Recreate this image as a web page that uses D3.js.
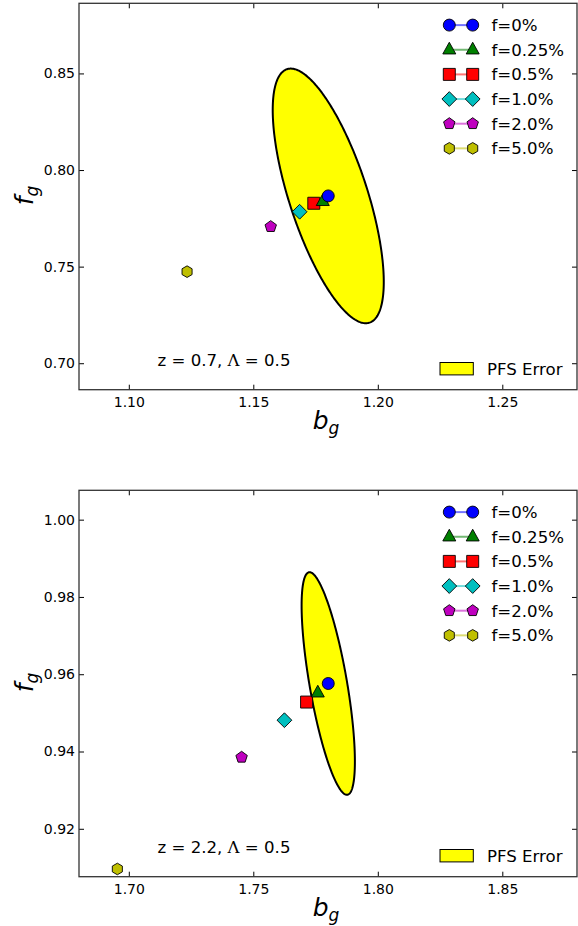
<!DOCTYPE html>
<html>
<head>
<meta charset="utf-8">
<script src="https://cdn.jsdelivr.net/npm/d3@7"></script>
<style>
  html, body { margin: 0; padding: 0; background: #fff; }
  svg { display: block; }
  text { font-family: "DejaVu Sans", sans-serif; }
</style>
</head>
<body>
<svg id="chart" width="578" height="926"></svg>
<script>
// ---------------- data ----------------
const seriesLabels = ["f=0%", "f=0.25%", "f=0.5%", "f=1.0%", "f=2.0%", "f=5.0%"];

// Panel 1: z = 0.7
const bgLow = [1.1801, 1.1779, 1.1743, 1.1686, 1.1570, 1.1234];
const fgLow = [0.7866, 0.7838, 0.7828, 0.7784, 0.7707, 0.7474];
// Panel 2: z = 2.2
const bgHigh = [1.7801, 1.7759, 1.7714, 1.7625, 1.7453, 1.6954];
const fgHigh = [0.9576, 0.9552, 0.9528, 0.9481, 0.9385, 0.9096];

// PFS error ellipses (half-extents in b_g and f_g, correlation)
const ellipseSigmaB = [0.0223, 0.0107];
const ellipseSigmaF = [0.0659, 0.0288];
const ellipseRho = [-0.675, -0.70];

const panelTitles = ["z = 0.7, ", "z = 2.2, "];
const panelLambda = ["Λ = 0.5", "Λ = 0.5"];
const errorLabel = "PFS Error";

const xDomains = [[1.08, 1.28], [1.68, 1.88]];
const yDomains = [[0.6863, 0.8863], [0.9076, 1.0076]];
const xTicks = [[1.10, 1.15, 1.20, 1.25], [1.70, 1.75, 1.80, 1.85]];
const yTicks = [[0.70, 0.75, 0.80, 0.85], [0.92, 0.94, 0.96, 0.98, 1.00]];

// ---------------- styles ----------------
const markerColors = ["#0000ff", "#008000", "#ff0000", "#00bfbf", "#bf00bf", "#bfbf00"];
const markerShapes = ["circle", "triangle", "square", "diamond", "pentagon", "hexagon"];

function polygonPath(n, r, rot) {
  const pts = d3.range(n).map(i => {
    const a = rot + i * 2 * Math.PI / n;
    return [r * Math.sin(a), -r * Math.cos(a)];
  });
  return "M" + pts.map(p => p[0].toFixed(2) + "," + p[1].toFixed(2)).join("L") + "Z";
}
function markerPath(shape) {
  switch (shape) {
    case "circle": return d3.symbol(d3.symbolCircle, Math.PI * 6 * 6)();
    case "triangle": return "M0,-7.5L6.5,4.2L-6.5,4.2Z";
    case "square": return "M-6,-6L6,-6L6,6L-6,6Z";
    case "diamond": return polygonPath(4, 7.4, 0);
    case "pentagon": return polygonPath(5, 6, 0);
    case "hexagon": return polygonPath(6, 5.8, 0);
  }
}

const left = 79, right = 577;
const panelTops = [3.3, 490.3];
const panelH = 386.4;

const svg = d3.select("#chart");

for (let p = 0; p < 2; p++) {
  const top = panelTops[p], bottom = top + panelH;
  const x = d3.scaleLinear().domain(xDomains[p]).range([left, right]);
  const y = d3.scaleLinear().domain(yDomains[p]).range([bottom, top]);
  const bg = p === 0 ? bgLow : bgHigh;
  const fg = p === 0 ? fgLow : fgHigh;
  const g = svg.append("g");

  const clipId = "clip" + p;
  svg.append("clipPath").attr("id", clipId)
    .append("rect").attr("x", left).attr("y", top).attr("width", right - left).attr("height", panelH);

  const plot = g.append("g").attr("clip-path", `url(#${clipId})`);

  // ellipse
  const b0 = bg[0], f0 = fg[0];
  const sb = ellipseSigmaB[p], sf = ellipseSigmaF[p], rho = ellipseRho[p];
  const ts = d3.range(0, 2 * Math.PI + 0.001, Math.PI / 180);
  const ellPts = ts.map(t => [
    b0 + sb * Math.cos(t),
    f0 + sf * (rho * Math.cos(t) + Math.sqrt(1 - rho * rho) * Math.sin(t))
  ]);
  plot.append("path")
    .datum(ellPts)
    .attr("d", d3.line().x(d => x(d[0])).y(d => y(d[1])).curve(d3.curveLinearClosed))
    .attr("fill", "#ffff00")
    .attr("stroke", "#000")
    .attr("stroke-width", 2);

  // markers (draw from last to first so f=0% on top)
  const idx = d3.range(seriesLabels.length).reverse();
  plot.selectAll("path.mk").data(idx).enter().append("path")
    .attr("class", "mk")
    .attr("d", i => markerPath(markerShapes[i]))
    .attr("transform", i => `translate(${x(bg[i])},${y(fg[i])})`)
    .attr("fill", i => markerColors[i])
    .attr("stroke", "#000")
    .attr("stroke-width", 0.9);

  // axes
  const fmt = d3.format(".2f");
  const axB = g.append("g").attr("transform", `translate(0,${bottom})`)
    .call(d3.axisBottom(x).tickValues(xTicks[p]).tickFormat(fmt).tickSize(-5).tickPadding(5));
  const axL = g.append("g").attr("transform", `translate(${left},0)`)
    .call(d3.axisLeft(y).tickValues(yTicks[p]).tickFormat(fmt).tickSize(-5).tickPadding(4));
  const axT = g.append("g").attr("transform", `translate(0,${top})`)
    .call(d3.axisTop(x).tickValues(xTicks[p]).tickFormat("").tickSize(-5));
  const axR = g.append("g").attr("transform", `translate(${right},0)`)
    .call(d3.axisRight(y).tickValues(yTicks[p]).tickFormat("").tickSize(-5));
  [axB, axL, axT, axR].forEach(a => {
    a.select(".domain").remove();
    a.selectAll("line").attr("stroke", "#000").attr("stroke-width", 1);
    a.selectAll("text").attr("font-family", "DejaVu Sans").attr("font-size", 14).attr("fill", "#000");
  });
  axB.selectAll("text").attr("dy", "0.9em");

  // frame
  g.append("rect").attr("x", left).attr("y", top).attr("width", right - left).attr("height", panelH)
    .attr("fill", "none").attr("stroke", "#333").attr("stroke-width", 1.3);

  // axis labels
  const xl = g.append("text")
    .attr("x", (left + right) / 2 - 2).attr("y", bottom + 39)
    .attr("text-anchor", "middle")
    .attr("font-family", "Liberation Serif, serif").attr("font-style", "italic").attr("font-size", 25);
  xl.append("tspan").text("b");
  xl.append("tspan").attr("font-size", 17).attr("dy", 5).text("g");

  const yl = g.append("text")
    .attr("transform", `translate(33,${top + panelH / 2 - 1}) rotate(-90)`)
    .attr("text-anchor", "middle")
    .attr("font-family", "Liberation Serif, serif").attr("font-style", "italic").attr("font-size", 25);
  yl.append("tspan").text("f");
  yl.append("tspan").attr("font-size", 17).attr("dy", 5).text("g");

  // annotation
  const ann = g.append("text").attr("x", 157.5).attr("y", bottom - 23.8)
    .attr("font-size", 16.6).attr("fill", "#000");
  ann.append("tspan").text(panelTitles[p]);
  ann.append("tspan").text(panelLambda[p].slice(0, 1)).attr("font-family", "DejaVu Serif, serif");
  ann.append("tspan").text(panelLambda[p].slice(1));

  // legend
  const leg = g.append("g");
  seriesLabels.forEach((lab, i) => {
    const ly = top + 21.8 + i * 24.65;
    leg.append("line").attr("x1", 449.3).attr("x2", 472.7).attr("y1", ly).attr("y2", ly)
      .attr("stroke", markerColors[i]).attr("stroke-opacity", 0.55).attr("stroke-width", 2);
    [449.3, 472.7].forEach(mx => {
      leg.append("path").attr("d", markerPath(markerShapes[i]))
        .attr("transform", `translate(${mx},${ly})`)
        .attr("fill", markerColors[i]).attr("stroke", "#000").attr("stroke-width", 0.9);
    });
    leg.append("text").attr("x", 491.5).attr("y", ly + 6).attr("font-size", 16.6).text(lab);
  });
  const py = bottom - 21;
  leg.append("rect").attr("x", 440).attr("y", py - 6.2).attr("width", 33.3).attr("height", 12.4)
    .attr("fill", "#ffff00").attr("stroke", "#000").attr("stroke-width", 1);
  leg.append("text").attr("x", 487).attr("y", py + 6.2).attr("font-size", 16.6).text(errorLabel);
}
</script>
</body>
</html>
